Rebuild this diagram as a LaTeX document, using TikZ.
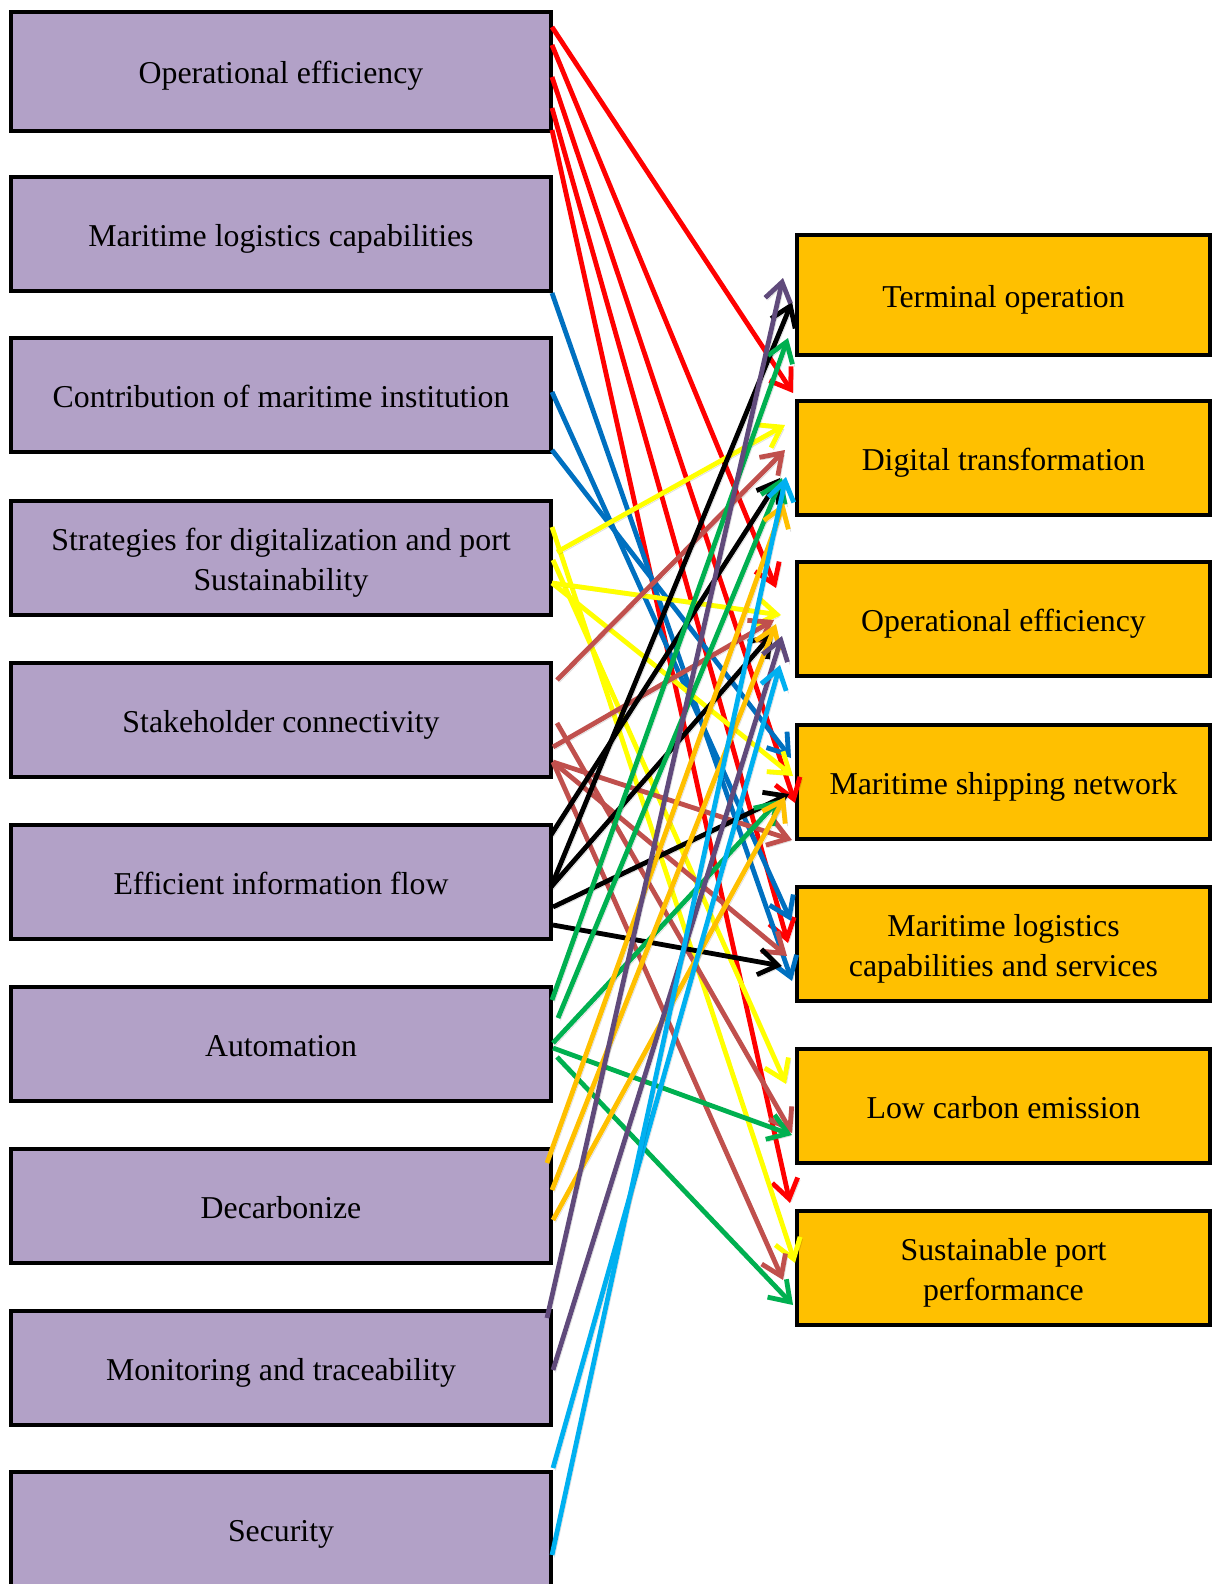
\documentclass[tikz,border=0pt]{standalone}
\usepackage{fontspec}
\setmainfont{Liberation Serif}
\usetikzlibrary{arrows.meta}
\definecolor{lav}{HTML}{B2A1C7}
\definecolor{amber}{HTML}{FFC000}
\definecolor{cred}{HTML}{FF0000}
\definecolor{cblue}{HTML}{0070C0}
\definecolor{cyel}{HTML}{FFFF00}
\definecolor{cbrown}{HTML}{C0504D}
\definecolor{cgreen}{HTML}{00B050}
\definecolor{corange}{HTML}{FFC000}
\definecolor{cpurple}{HTML}{604A7B}
\definecolor{clblue}{HTML}{00B0F0}
\begin{document}
\begin{tikzpicture}[x=0.5pt,y=-0.5pt,
  box/.style={draw=black, line width=2pt, minimum height=57pt, inner sep=0pt,
    align=center, font=\fontsize{15.9}{20}\selectfont,
    text height=13pt, text depth=0.5pt},
  twoline/.style={text height=33pt, text depth=0.5pt},
  src/.style={box, fill=lav, minimum width=270pt},
  dst/.style={box, fill=amber, minimum width=206.5pt},
  link/.style={line width=2.4pt, -{Straight Barb[length=9.5pt,width=13pt]},
    preaction={draw=black, draw opacity=0.13, transform canvas={shift={(1.2pt,-1.2pt)}}}},
]
\fill[white] (0,0) rectangle (1220,1584);
\useasboundingbox (0,0) rectangle (1220,1584);

% factors on the left
\node[src, minimum height=59.5pt] (L1) at (281,71.5) {Operational efficiency};
\node[src] (L2) at (281,234) {Maritime logistics capabilities};
\node[src] (L3) at (281,395) {Contribution of maritime institution};
\node[src, twoline] (L4) at (281,558) {Strategies for digitalization and port\\Sustainability};
\node[src] (L5) at (281,720) {Stakeholder connectivity};
\node[src] (L6) at (281,882) {Efficient information flow};
\node[src] (L7) at (281,1044) {Automation};
\node[src] (L8) at (281,1206) {Decarbonize};
\node[src] (L9) at (281,1368) {Monitoring and traceability};
\node[src] (L10) at (281,1529) {Security};

% outcomes on the right
\node[dst, minimum height=60pt] (R1) at (1003.5,295) {Terminal operation};
\node[dst] (R2) at (1003.5,458) {Digital transformation};
\node[dst] (R3) at (1003.5,619) {Operational efficiency};
\node[dst] (R4) at (1003.5,782) {Maritime shipping network};
\node[dst, twoline] (R5) at (1003.5,944) {Maritime logistics\\capabilities and services};
\node[dst] (R6) at (1003.5,1106) {Low carbon emission};
\node[dst, twoline] (R7) at (1003.5,1268) {Sustainable port\\performance};

% operational efficiency
\draw[link,cred] ([shift={(-1,-44.5)}]L1.east) -- ([shift={(-2,-65)}]R2.west);
\draw[link,cred] ([shift={(-1,-26.5)}]L1.east) -- ([shift={(-19,-31)}]R3.west);
\draw[link,cred] ([shift={(-1,5.5)}]L1.east) -- ([shift={(0,21)}]R4.west);
\draw[link,cred] ([shift={(-1,36.5)}]L1.east) -- ([shift={(-7,-1)}]R5.west);
\draw[link,cred] ([shift={(-1,58.5)}]L1.east) -- ([shift={(-5,-65)}]R7.west);

% logistics capabilities and institutions
\draw[link,cblue] ([shift={(-1,59)}]L2.east) -- ([shift={(-3,37)}]R5.west);
\draw[link,cblue] ([shift={(-1,-3)}]L3.east) -- ([shift={(-4,-23)}]R5.west);
\draw[link,cblue] ([shift={(-1,55)}]L3.east) -- ([shift={(-4,-24)}]R4.west);

% strategies
\draw[link,cyel] ([shift={(-1,-31)}]L4.east) -- ([shift={(0,-5)}]R7.west);
\draw[link,cyel] ([shift={(4,-6)}]L4.east) -- ([shift={(-10,-33)}]R2.west);
\draw[link,cyel] ([shift={(0,2)}]L4.east) -- ([shift={(-9,-22)}]R6.west);
\draw[link,cyel] ([shift={(-1,25)}]L4.east) -- ([shift={(-14,-4)}]R3.west);
\draw[link,cyel] ([shift={(-1,25)}]L4.east) -- ([shift={(-2,-6)}]R4.west);

% stakeholder connectivity
\draw[link,cbrown] ([shift={(4,-40)}]L5.east) -- ([shift={(-10,-8)}]R2.west);
\draw[link,cbrown] ([shift={(0,27)}]L5.east) -- ([shift={(-21,1)}]R3.west);
\draw[link,cbrown] ([shift={(4,3)}]L5.east) -- ([shift={(-3,27)}]R6.west);
\draw[link,cbrown] ([shift={(0,42)}]L5.east) -- ([shift={(-3,58)}]R4.west);
\draw[link,cbrown] ([shift={(0,42)}]L5.east) -- ([shift={(-8,12)}]R5.west);
\draw[link,cbrown] ([shift={(0,42)}]L5.east) -- ([shift={(-12,12)}]R7.west);

% information flow
\draw[link,black] ([shift={(-2,5)}]L6.east) -- ([shift={(-3,7)}]R1.west);
\draw[link,black] ([shift={(-2,-47)}]L6.east) -- ([shift={(-15,20)}]R2.west);
\draw[link,black] ([shift={(-2,5)}]L6.east) -- ([shift={(-22,14)}]R3.west);
\draw[link,black] ([shift={(0,25)}]L6.east) -- ([shift={(-6,12)}]R4.west);
\draw[link,black] ([shift={(0,43)}]L6.east) -- ([shift={(-13,22)}]R5.west);

% automation
\draw[link,cgreen] ([shift={(-1,-44)}]L7.east) -- ([shift={(-7,43)}]R1.west);
\draw[link,cgreen] ([shift={(5,-26)}]L7.east) -- ([shift={(-13,20)}]R2.west);
\draw[link,cgreen] ([shift={(0,-1)}]L7.east) -- ([shift={(-16,18)}]R4.west);
\draw[link,cgreen] ([shift={(0,4)}]L7.east) -- ([shift={(-3,29)}]R6.west);
\draw[link,cgreen] ([shift={(4,13)}]L7.east) -- ([shift={(-2,37)}]R7.west);

% decarbonize
\draw[link,corange] ([shift={(-6,-43)}]L8.east) -- ([shift={(-11,45)}]R2.west);
\draw[link,corange] ([shift={(-1,-16)}]L8.east) -- ([shift={(-19,5)}]R3.west);
\draw[link,corange] ([shift={(0,14)}]L8.east) -- ([shift={(-10,15)}]R4.west);

% monitoring
\draw[link,cpurple] ([shift={(-6,-50)}]L9.east) -- ([shift={(-12,-17)}]R1.west);
\draw[link,cpurple] ([shift={(0,2)}]L9.east) -- ([shift={(-13,17)}]R3.west);

% security
\draw[link,clblue] ([shift={(0,-61)}]L10.east) -- ([shift={(-15,46)}]R3.west);
\draw[link,clblue] ([shift={(-1,26)}]L10.east) -- ([shift={(-9,19)}]R2.west);
\end{tikzpicture}
\end{document}
